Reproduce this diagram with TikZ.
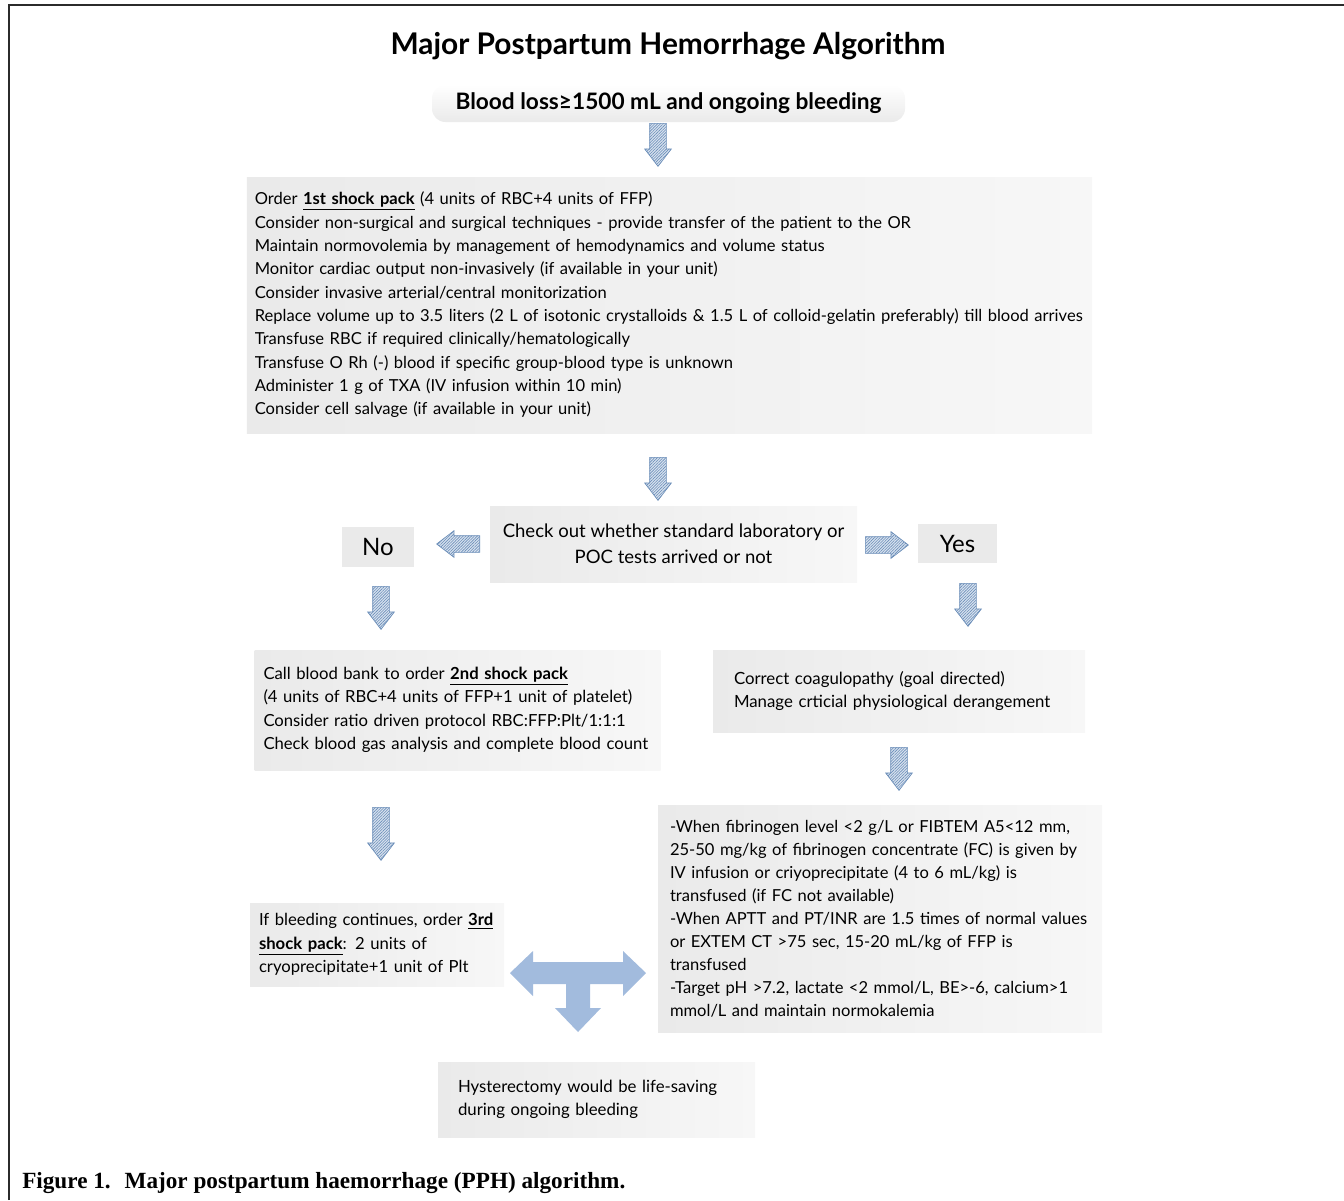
\documentclass[tikz,border=0pt]{standalone}
\usepackage{fontspec}
\setmainfont{Lato}
\newfontfamily\capfont{Liberation Serif}
\usetikzlibrary{shapes.arrows,patterns.meta,positioning}

\definecolor{boxgray}{HTML}{EAEAEA}
\definecolor{boxlight}{HTML}{F7F7F7}
\definecolor{arrowedge}{HTML}{6A8DB8}
\definecolor{arrowfill}{HTML}{D8E2EF}
\definecolor{tblue}{HTML}{A2BBDD}
\definecolor{framegray}{HTML}{2B2B2B}

\tikzstyle{infobox} = [rectangle, left color=boxgray, right color=boxlight, align=left, inner ysep=0pt, font=\fontsize{12.6}{17.25}\selectfont]
\tikzstyle{answer} = [rectangle, fill=boxgray, inner sep=0pt, font=\fontsize{18}{20}\selectfont]
\tikzstyle{hatcharrow} = [single arrow, anchor=tail, draw=arrowedge, line width=0.5pt, fill=arrowfill, inner xsep=0pt, inner ysep=6pt, minimum height=32.25pt, minimum width=19.5pt, single arrow head extend=3.75pt, single arrow tip angle=75, postaction={pattern={Lines[angle=45,distance=1.5pt,line width=0.45pt]}, pattern color=arrowedge}]
\tikzstyle{downarrow} = [hatcharrow, rotate=-90]

\begin{document}
\begin{tikzpicture}[x=0.75pt, y=-0.75pt]
\useasboundingbox (0,0) rectangle (1344,1200);

% frame
\draw [framegray, line width=1.5pt] (9,1200) -- (9,5) -- (1344,5);

\node (title) at (668,46) {\fontsize{22.4}{26}\selectfont\bfseries Major Postpartum Hemorrhage Algorithm};

\node (start) [rectangle, rounded corners=10pt, top color=white, bottom color=boxgray, minimum width=354.75pt, minimum height=27.75pt] at (668.5,103.5) {\fontsize{17}{20}\selectfont\bfseries Blood loss≥1500 mL and ongoing bleeding};
\node (a1) [downarrow] at (658,123) {};

% first shock pack
\node (pack1) [infobox, text width=622pt, minimum height=192pt, inner xsep=6pt, font=\fontsize{12.4}{17.5}\selectfont] at (669.5,305) {%
Order \textbf{\underline{1st shock pack}} (4 units of RBC+4 units of FFP)\\
Consider non-surgical and surgical techniques - provide transfer of the patient to the OR\\
Maintain normovolemia by management of hemodynamics and volume status\\
Monitor cardiac output non-invasively (if available in your unit)\\
Consider invasive arterial/central monitorization\\
Replace volume up to 3.5 liters (2 L of isotonic crystalloids \& 1.5 L of colloid-gelatin preferably) till blood arrives\\
Transfuse RBC if required clinically/hematologically\\
Transfuse O Rh (-) blood if specific group-blood type is unknown\\
Administer 1 g of TXA (IV infusion within 10 min)\\
Consider cell salvage (if available in your unit)};
\node (a2) [downarrow] at (658,457) {};

% decision
\node (check) [infobox, align=center, minimum width=275.25pt, minimum height=57pt, font=\fontsize{13.9}{19.5}\selectfont] at (673.5,544) {Check out whether standard laboratory or\\POC tests arrived or not};
\node (no) [answer, minimum width=54pt, minimum height=30pt] at (378,547) {No};
\node (yes) [answer, minimum width=59.25pt, minimum height=29.25pt] at (957.5,543.5) {Yes};
\node (ano) [hatcharrow, rotate=180] at (480,544) {};
\node (ayes) [hatcharrow] at (865,545) {};

% no branch
\node (a3) [downarrow] at (381,586) {};
\node (pack2) [infobox, text width=291pt, minimum height=90pt, inner xsep=6.75pt, font=\fontsize{12.5}{17.6}\selectfont] at (457.5,710) {%
Call blood bank to order \textbf{\underline{2nd shock pack}}\\
(4 units of RBC+4 units of FFP+1 unit of platelet)\\
Consider ratio driven protocol RBC:FFP:Plt/1:1:1\\
Check blood gas analysis and complete blood count};
\node (a6) [downarrow, minimum height=39.75pt] at (381,807) {};
\node (pack3) [infobox, text width=177pt, minimum height=62.25pt, inner xsep=6.75pt, font=\fontsize{12.5}{17.5}\selectfont] at (377,944.5) {%
If bleeding continues, order \textbf{\underline{3rd}}\\
\textbf{\underline{shock pack}}: 2 units of\\
cryoprecipitate+1 unit of Plt};

% yes branch
\node (a4) [downarrow] at (968,583) {};
\node (coag) [infobox, text width=247.5pt, minimum height=61.5pt, inner xsep=15.75pt] at (899,691) {%
Correct coagulopathy (goal directed)\\
Manage crticial physiological derangement};
\node (a5) [downarrow] at (899,747) {};
\node (goal) [infobox, text width=315pt, minimum height=170.25pt, inner xsep=9pt, font=\fontsize{12.4}{17.25}\selectfont] at (880,918.5) {%
-When fibrinogen level <2 g/L or FIBTEM A5<12 mm,\\
25-50 mg/kg of fibrinogen concentrate (FC) is given by\\
IV infusion or criyoprecipitate (4 to 6 mL/kg) is\\
transfused (if FC not available)\\
-When APTT and PT/INR are 1.5 times of normal values\\
or EXTEM CT >75 sec, 15-20 mL/kg of FFP is\\
transfused\\
-Target pH >7.2, lactate <2 mmol/L, BE>-6, calcium>1\\
mmol/L and maintain normokalemia};

% three-way arrow
\fill [tblue] (510,973) -- (533,951) -- (533,962) -- (623,962) -- (623,951) -- (646,973)
      -- (623,996) -- (623,984) -- (590,984) -- (590,1008) -- (601,1008) -- (578,1032)
      -- (555,1008) -- (566,1008) -- (566,984) -- (533,984) -- (533,996) -- cycle;

\node (hyst) [infobox, text width=207.75pt, minimum height=56.25pt, inner xsep=15pt] at (596.5,1099.5) {%
Hysterectomy would be life-saving\\
during ongoing bleeding};

\node (caption) [anchor=west, inner sep=0pt] at (22,1183) {\capfont\bfseries\fontsize{17.4}{20}\selectfont Figure 1.\hspace{0.6em}Major postpartum haemorrhage (PPH) algorithm.};
\end{tikzpicture}
\end{document}
